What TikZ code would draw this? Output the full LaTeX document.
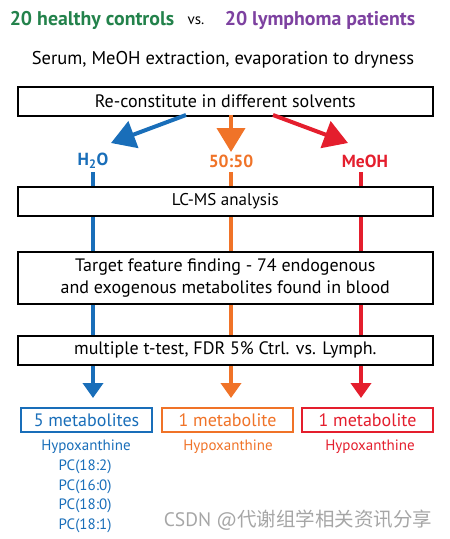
\documentclass[tikz,border=0pt]{standalone}
\usepackage{fontspec}
\setmainfont{PT Sans}
\newfontfamily\cjk{Noto Sans CJK SC}
\usetikzlibrary{arrows.meta}
\definecolor{cgreen}{RGB}{35,130,75}
\definecolor{cpurple}{RGB}{125,65,160}
\definecolor{cblue}{RGB}{25,110,185}
\definecolor{corange}{RGB}{240,115,40}
\definecolor{cred}{RGB}{228,30,45}
\tikzset{
  x=1pt,y=-1pt,
  mainbox/.style={draw=black,line width=1.6pt,fill=white,minimum width=415pt,anchor=north west,inner sep=0pt},
  resbox/.style={line width=2pt,fill=white,minimum width=131pt,minimum height=24pt,anchor=north west,inner sep=0pt,font=\fontsize{18}{20}\selectfont},
  flow/.style={line width=4pt,-{Triangle[width=20pt,length=15pt]}},
  bigflow/.style={line width=4pt,-{Triangle[width=28pt,length=24pt]}},
  lbl/.style={font=\fontsize{17.5}{19}\selectfont\bfseries},
  met/.style={font=\fontsize{15}{17}\selectfont},
  boxtext/.style={align=center,font=\fontsize{18}{22}\selectfont}
}
\begin{document}
\begin{tikzpicture}
\useasboundingbox (0,0) rectangle (450,539);
% title
\node[font=\fontsize{19.8}{22}\selectfont\bfseries,text=cgreen] (hc) at (92,20) {20 healthy controls};
\node[font=\fontsize{15}{17}\selectfont] (vs) at (196,21) {vs.};
\node[font=\fontsize{19.8}{22}\selectfont\bfseries,text=cpurple] (lp) at (320,20) {20 lymphoma patients};
\node[font=\fontsize{18.5}{21}\selectfont] (serum) at (223,60) {Serum, MeOH extraction, evaporation to dryness};
% labels
\node[lbl,text=cblue] (h2o) at (93,161) {H\textsubscript{2}O};
\node[lbl,text=corange] (mix) at (231,161) {50:50};
\node[lbl,text=cred] (meoh) at (365,161) {MeOH};
% anchor coordinates
\coordinate (bs) at (186,115);
\coordinate (os) at (231,115);
\coordinate (rs) at (273,115);
\coordinate (bt) at (111,143);
\coordinate (ot) at (231,152);
\coordinate (rt) at (348,143);
\coordinate (bl) at (93,172);
\coordinate (ol) at (231,172);
\coordinate (rl) at (361,172);
\coordinate (be) at (93,398);
\coordinate (oe) at (231,398);
\coordinate (re) at (361,398);
% vertical lines
\draw[flow,cblue] (bl) -- (be);
\draw[flow,corange] (ol) -- (oe);
\draw[flow,cred] (rl) -- (re);
% box 1
\node[mainbox,minimum height=29pt] (b1) at (17,86) {};
\node[boxtext] at (b1.center) {Re-constitute in different solvents};
\draw[bigflow,cblue] (bs) -- (bt);
\draw[bigflow,corange] (os) -- (ot);
\draw[bigflow,cred] (rs) -- (rt);
% box 2
\node[mainbox,minimum height=29pt] (b2) at (17,186) {};
\node[boxtext,font=\fontsize{17}{20}\selectfont] at (b2.center) {LC-MS analysis};
% box 3
\node[mainbox,minimum height=52pt] (b3) at (17,251) {};
\node[boxtext] at (b3.center) {Target feature finding - 74 endogenous\\and exogenous metabolites found in blood};
% box 4
\node[mainbox,minimum height=29pt] (b4) at (17,335) {};
\node[boxtext] at (b4.center) {multiple t-test, FDR 5\% Ctrl. vs. Lymph.};
% result boxes
\node[resbox,draw=cblue,text=cblue] (r1) at (20,407) {5 metabolites};
\node[resbox,draw=corange,text=corange] (r2) at (161,407) {1 metabolite};
\node[resbox,draw=cred,text=cred] (r3) at (301,407) {1 metabolite};
% metabolite lists
\node[met,text=cblue] (m1) at (86,447) {Hypoxanthine};
\node[met,text=cblue] (m2) at (85,467) {PC(18:2)};
\node[met,text=cblue] (m3) at (85,487) {PC(16:0)};
\node[met,text=cblue] (m4) at (85,506) {PC(18:0)};
\node[met,text=cblue] (m5) at (85,526) {PC(18:1)};
\node[met,text=corange] (m6) at (228,447) {Hypoxanthine};
\node[met,text=cred] (m7) at (370,447) {Hypoxanthine};
% watermark
\node[font=\fontsize{19.5}{22}\selectfont,text=black!35] (wm) at (298,520) {CSDN @{\cjk 代谢组学相关资讯分享}};
\end{tikzpicture}
\end{document}
